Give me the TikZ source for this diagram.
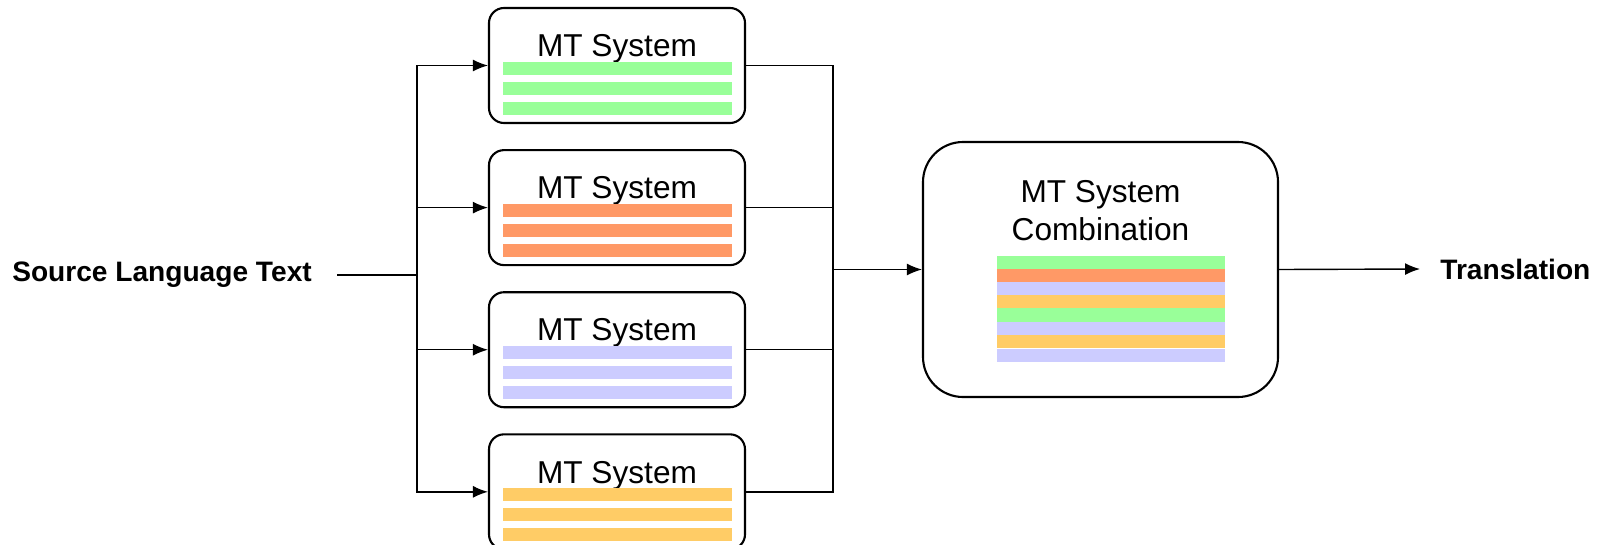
\documentclass[tikz,border=0pt]{standalone}
\usepackage{fontspec}
\setmainfont{Liberation Sans}
\usetikzlibrary{positioning, arrows.meta, calc}

\definecolor{stripgreen}{HTML}{99FF99}
\definecolor{striporange}{HTML}{FF9966}
\definecolor{striplav}{HTML}{CCCCFF}
\definecolor{stripyellow}{HTML}{FFCC66}

\begin{document}
\begin{tikzpicture}[node distance=5mm, >={Latex[length=3mm,width=2.4mm]}]
            % Define node styles
            \tikzstyle{system} = [rectangle, draw, line width=1.2pt, rounded corners=0.3cm, minimum width=5.12cm, minimum height=2.3cm, inner sep=0pt]
            \tikzstyle{combo} = [rectangle, draw, line width=1.2pt, rounded corners=0.8cm, minimum width=7.1cm, minimum height=5.1cm, inner sep=0pt]
            \tikzstyle{title} = [font=\fontsize{18}{21.6}\selectfont, inner sep=0pt, align=center]
            \tikzstyle{io} = [font=\fontsize{16}{19}\selectfont\bfseries, inner sep=0pt]
            \tikzstyle{wire} = [line width=0.8pt]

            \useasboundingbox (0,0) rectangle (32.14,-10.88);

            % Input text (left)
            \node[io] (src) at (3.24,-5.5) {Source Language Text};

            % MT system boxes (middle column)
            \node[system] (sys1) at (12.34,-1.31) {};
            \node[system] (sys2) [below=of sys1] {};
            \node[system] (sys3) [below=of sys2] {};
            \node[system] (sys4) [below=of sys3] {};

            % Titles and output strips of each system
            \foreach \s/\c in {sys1/stripgreen, sys2/striporange, sys3/striplav, sys4/stripyellow} {
                \node[title] (\s-t) at ([yshift=-0.84cm]\s.north) {MT System};
                \foreach \y in {1.10,1.50,1.90}
                    \fill[\c] ($(\s.north)+(-2.29,-\y)$) rectangle ($(\s.north)+(2.29,-\y-0.26)$);
            }

            % Combination box (right)
            \node[combo] (comb) at (22.01,-5.39) {};
            \node[title] (comb-t) at ([yshift=-1.39cm]comb.north) {MT System\\Combination};
            \foreach \c/\y in {stripgreen/2.30, striporange/2.56, striplav/2.83, stripyellow/3.09, stripgreen/3.35, striplav/3.62, stripyellow/3.88}
                \fill[\c] ($(comb.north)+(-2.07,-\y)$) rectangle ($(comb.north)+(2.49,-\y-0.27)$);
            \fill[striplav] ($(comb.north)+(-2.07,-4.16)$) rectangle ($(comb.north)+(2.49,-4.42)$);

            % Output text
            \node[io, anchor=west] (out) at (28.8,-5.38) {Translation};

            % Split and merge points
            \coordinate (split) at (8.34,-5.5);
            \coordinate (merge) at ([xshift=-1.78cm]comb.west);

            % Connectors
            \draw[line width=1pt] ([xshift=5mm]src.east |- split) -- (split);
            \foreach \s in {sys1,sys2,sys3,sys4}
                \draw[wire, ->] (split) |- (\s.west);
            \foreach \s in {sys1,sys2,sys3,sys4}
                \draw[wire] (\s.east) -| (merge);
            \draw[wire, ->] (merge) -- (comb.west);
            \draw[wire, ->] (comb.east) -- ([xshift=-4mm]out.west);

\end{tikzpicture}
\end{document}
